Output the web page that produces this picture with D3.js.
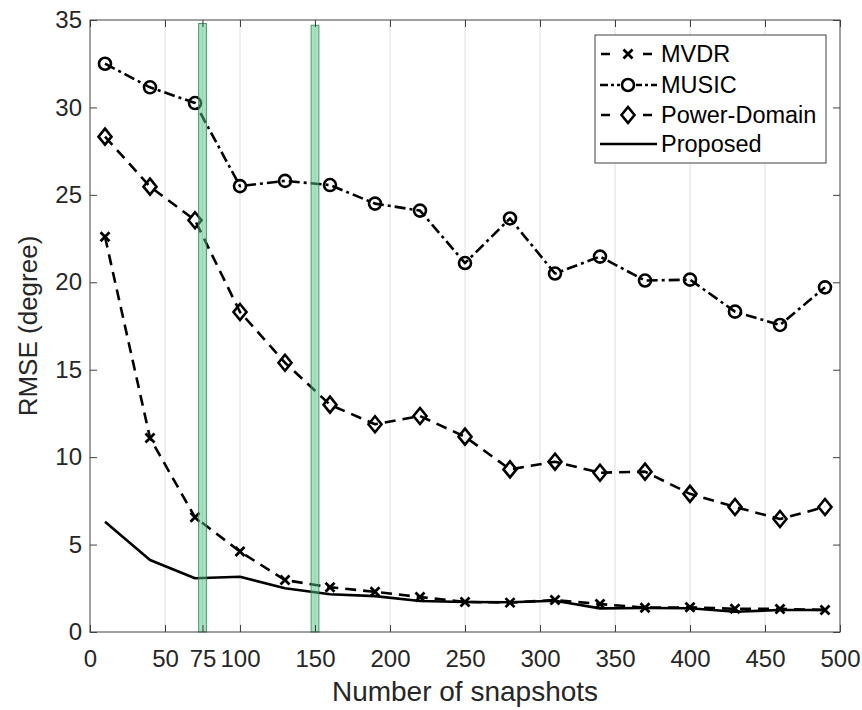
<!DOCTYPE html>
<html><head><meta charset="utf-8">
<script src="https://cdn.jsdelivr.net/npm/d3@7"></script>
<style>body{margin:0;background:#fff}svg{display:block}text{font-family:"Liberation Sans",Arial,sans-serif}</style>
</head><body><svg id="c" width="862" height="710"></svg>
<script>
const snapshots = [10,40,70,100,130,160,190,220,250,280,310,340,370,400,430,460,490];
const mvdr = [22.6,11.1,6.56,4.6,2.97,2.56,2.3,2.0,1.72,1.68,1.83,1.6,1.39,1.41,1.33,1.32,1.26];
const music = [32.5,31.15,30.25,25.5,25.8,25.56,24.5,24.1,21.1,23.65,20.5,21.47,20.1,20.15,18.32,17.56,19.71];
const powerDomain = [28.33,25.47,23.55,18.3,15.4,13.0,11.88,12.35,11.17,9.3,9.74,9.11,9.17,7.9,7.15,6.46,7.15];
const proposed = [6.31,4.12,3.07,3.16,2.5,2.16,2.05,1.77,1.72,1.7,1.79,1.35,1.37,1.36,1.16,1.26,1.26];
const xTicks = [0,50,75,100,150,200,250,300,350,400,450,500];
const yTicks = [0,5,10,15,20,25,30,35];
const highlightBars = [{x:75, top:34.8},{x:150, top:34.7}];
const seriesNames = ["MVDR","MUSIC","Power-Domain","Proposed"];

const svg = d3.select("#c");
const L=90, R=840, T=20, B=632;
const x = d3.scaleLinear().domain([0,500]).range([L,R]);
const y = d3.scaleLinear().domain([0,35]).range([B,T]);
const axisCol = "#404040";

// vertical grid
svg.append("g").selectAll("line").data(xTicks.filter(d=>d>0&&d<500)).join("line")
  .attr("x1",d=>x(d)).attr("x2",d=>x(d)).attr("y1",T).attr("y2",B)
  .attr("stroke","#dedede").attr("stroke-width",1);

const series = [
  {name:seriesNames[0], vals:mvdr, dash:"11,7", marker:"x"},
  {name:seriesNames[1], vals:music, dash:"11,4,3,4", marker:"o"},
  {name:seriesNames[2], vals:powerDomain, dash:"11,7", marker:"d"},
  {name:seriesNames[3], vals:proposed, dash:null, marker:null}
];
const line = d3.line().x(d=>x(d[0])).y(d=>y(d[1]));

function drawMarker(g, type, cx, cy){
  if(type==="x"){
    const s=4.5;
    g.append("path").attr("d",`M${cx-s},${cy-s}L${cx+s},${cy+s}M${cx-s},${cy+s}L${cx+s},${cy-s}`)
      .attr("stroke","#000").attr("stroke-width",2.8).attr("fill","none");
  } else if(type==="o"){
    g.append("circle").attr("cx",cx).attr("cy",cy).attr("r",6)
      .attr("stroke","#000").attr("stroke-width",2.6).attr("fill","none");
  } else if(type==="d"){
    g.append("path").attr("d",`M${cx},${cy-8}L${cx+6.5},${cy}L${cx},${cy+8}L${cx-6.5},${cy}Z`)
      .attr("stroke","#000").attr("stroke-width",2.6).attr("fill","none");
  }
}

const gl = svg.append("g");
series.forEach(s=>{
  const pts = snapshots.map((d,i)=>[d,s.vals[i]]);
  gl.append("path").attr("d",line(pts)).attr("fill","none").attr("stroke","#000")
    .attr("stroke-width",2.6).attr("stroke-dasharray",s.dash).attr("stroke-linejoin","round");
  if(s.marker) pts.forEach(p=>drawMarker(gl,s.marker,x(p[0]),y(p[1])));
});

// highlight bars
const bw = 2.6;
svg.append("g").selectAll("rect").data(highlightBars).join("rect")
  .attr("x",d=>x(d.x-bw)).attr("width",d=>x(d.x+bw)-x(d.x-bw))
  .attr("y",d=>y(d.top)).attr("height",d=>y(0)-y(d.top))
  .attr("fill","rgb(80,200,130)").attr("fill-opacity",0.5)
  .attr("stroke","rgb(40,130,80)").attr("stroke-opacity",0.8).attr("stroke-width",1);

// box
svg.append("rect").attr("x",L).attr("y",T).attr("width",R-L).attr("height",B-T)
  .attr("fill","none").attr("stroke",axisCol).attr("stroke-width",1);

// axes
const tickLen = 7;
const xAxis = svg.append("g").attr("transform",`translate(0,${B})`)
  .call(d3.axisBottom(x).tickValues(xTicks).tickSize(-tickLen).tickPadding(18).tickFormat(d3.format("d")));
const xAxisTop = svg.append("g").attr("transform",`translate(0,${T})`)
  .call(d3.axisTop(x).tickValues(xTicks).tickSize(-tickLen).tickFormat(""));
const yAxis = svg.append("g").attr("transform",`translate(${L},0)`)
  .call(d3.axisLeft(y).tickValues(yTicks).tickSize(-tickLen).tickPadding(8));
const yAxisR = svg.append("g").attr("transform",`translate(${R},0)`)
  .call(d3.axisRight(y).tickValues(yTicks).tickSize(-tickLen).tickFormat(""));
[xAxis,xAxisTop,yAxis,yAxisR].forEach(a=>{
  a.select(".domain").remove();
  a.selectAll(".tick line").attr("stroke",axisCol);
  a.selectAll("text").attr("fill","#262626").style("font-size","24px").style("font-family",'"Liberation Sans",Arial,sans-serif');
});

svg.append("text").attr("x",(L+R)/2).attr("y",701).attr("text-anchor","middle")
  .attr("fill","#262626").style("font-size","28px").text("Number of snapshots");
svg.append("text").attr("transform",`translate(37,${(T+B)/2}) rotate(-90)`).attr("text-anchor","middle")
  .attr("fill","#262626").style("font-size","26px").text("RMSE (degree)");

// legend
const lg = svg.append("g");
lg.append("rect").attr("x",595).attr("y",35).attr("width",231).attr("height",128)
  .attr("fill","#fff").attr("stroke",axisCol).attr("stroke-width",1);
const ly = [54,85,115,144];
series.forEach((s,i)=>{
  lg.append("line").attr("x1",600).attr("x2",657).attr("y1",ly[i]).attr("y2",ly[i])
    .attr("stroke","#000").attr("stroke-width",2.6).attr("stroke-dasharray",s.dash?(s.marker==="o"?"8,3,3,3":"9,12"):null)
    .attr("stroke-dashoffset",s.marker==="o"?0:-1);
  if(s.marker) {
    lg.append("rect").attr("x",620).attr("y",ly[i]-9).attr("width",16).attr("height",18).attr("fill","#fff");
    drawMarker(lg,s.marker,628,ly[i]);
  }
  lg.append("text").attr("x",661).attr("y",ly[i]).attr("dy","0.36em").attr("fill","#000")
    .style("font-size","23.5px").text(s.name);
});
</script></body></html>
